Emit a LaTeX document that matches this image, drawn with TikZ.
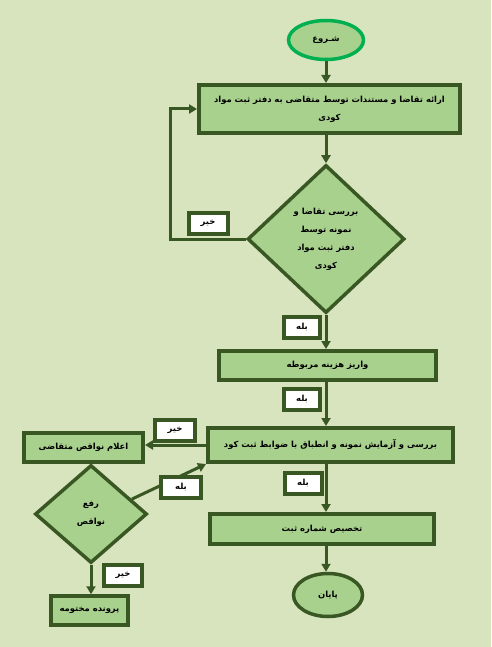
\documentclass[tikz,border=0pt]{standalone}
\usepackage{fontspec}
\newfontfamily\farsifont[Script=Arabic]{DejaVu Sans}
\TeXXeTstate=1
\usepackage{tikz}
\usetikzlibrary{shapes.geometric, arrows.meta, positioning}
\definecolor{pagegreen}{RGB}{216, 228, 190}
\definecolor{boxgreen}{RGB}{169, 209, 142}
\definecolor{edgegreen}{RGB}{56, 87, 35}
\definecolor{startgreen}{RGB}{0, 176, 80}
\newcommand{\fatxt}[1]{\beginR #1\endR}

\begin{document}
\begin{tikzpicture}[
    x=1pt, y=-1pt,
    font=\farsifont\bfseries\fontsize{8.4}{18}\selectfont,
    >={Triangle[length=8pt, width=9pt]},
    flow/.style={->, draw=edgegreen, line width=3pt},
    link/.style={draw=edgegreen, line width=3pt},
    procbox/.style={draw=edgegreen, line width=4pt, fill=boxgreen, align=center, inner sep=0pt},
    decide/.style={diamond, draw=edgegreen, line width=3.5pt, fill=boxgreen, align=center, inner sep=0pt},
    termin/.style={ellipse, line width=3.5pt, fill=boxgreen, inner sep=0pt},
    answer/.style={draw=edgegreen, line width=4pt, fill=white, minimum width=36pt, minimum height=21pt, inner sep=0pt},
]

% --- Page background ---
\useasboundingbox (0,0) rectangle (491,647);
\fill[pagegreen] (0,0) rectangle (491,647);

% --- Main column ---
\node[termin, draw=startgreen, minimum width=75pt, minimum height=39pt] (start) at (326,40) {\fatxt{شـروع}};
\node[procbox, minimum width=261pt, minimum height=48pt] (request) at (329.5,109)
    {\fatxt{ارائه تقاضا و مستندات توسط متقاضی به دفتر  ثبت مواد}\\\fatxt{کودی}};
\node[decide, minimum width=157pt, minimum height=148pt] (check) at (326,239)
    {\fatxt{بررسی تقاضا و}\\\fatxt{نمونه توسط}\\\fatxt{دفتر ثبت مواد}\\\fatxt{کودی}};
\node[procbox, minimum width=217pt, minimum height=29pt] (payment) at (327.5,365.5) {\fatxt{واریز هزینه مربوطه}};
\node[procbox, minimum width=245pt, minimum height=34pt] (test) at (330.5,445) {\fatxt{بررسی و آزمایش نمونه و انطباق با ضوابط ثبت کود}};
\node[procbox, minimum width=224pt, minimum height=30pt] (regno) at (322,529) {\fatxt{تخصیص شماره ثبت}};
\node[termin, draw=edgegreen, minimum width=69pt, minimum height=43pt] (finish) at (328,595) {\fatxt{پایان}};

% --- Side branch (left) ---
\node[procbox, minimum width=119pt, minimum height=29pt] (defects) at (83.5,447) {\fatxt{اعلام نواقص متقاضی}};
\node[decide, minimum width=112pt, minimum height=98pt] (fix) at (91,514) {\fatxt{رفع}\\\fatxt{نواقص}};
\node[procbox, line width=3.5pt, minimum width=77pt, minimum height=29pt] (closed) at (89.5,610.5) {\fatxt{پرونده مختومه}};

% --- Connectors ---
\draw[flow] (start.south) -- (start.south |- request.north);
\draw[flow] (request.south -| check.north) -- (check.north);
\draw[flow] (check.south) -- (check.south |- payment.north);
\draw[flow] (check.south |- payment.south) -- (check.south |- test.north);
\draw[flow] (check.south |- test.south) -- (check.south |- regno.north);
\draw[flow] (check.south |- regno.south) -- (finish.north -| check.south);
\coordinate (loop) at (170,109);
\draw[flow] (check.west) -| (loop) -- (request.west);
\draw[flow] (test.west) -- (test.west -| defects.east);
\draw[flow] (fix.20) -- (test.south west);
\draw[flow] (fix.south) -- (fix.south |- closed.north);

% --- Answer labels ---
\node[answer, minimum width=39pt] (no1) at (208,223) {\fatxt{خیر}};
\node[answer] (yes1) at (302,327) {\fatxt{بله}};
\node[answer] (yes2) at (302,399) {\fatxt{بله}};
\node[answer, minimum width=40pt] (no2) at (175,430) {\fatxt{خیر}};
\node[answer, minimum width=40pt] (yes3) at (181,487) {\fatxt{بله}};
\node[answer, minimum width=37pt] (yes4) at (303,483) {\fatxt{بله}};
\node[answer, minimum width=38pt] (no3) at (123,575) {\fatxt{خیر}};

\end{tikzpicture}
\end{document}
